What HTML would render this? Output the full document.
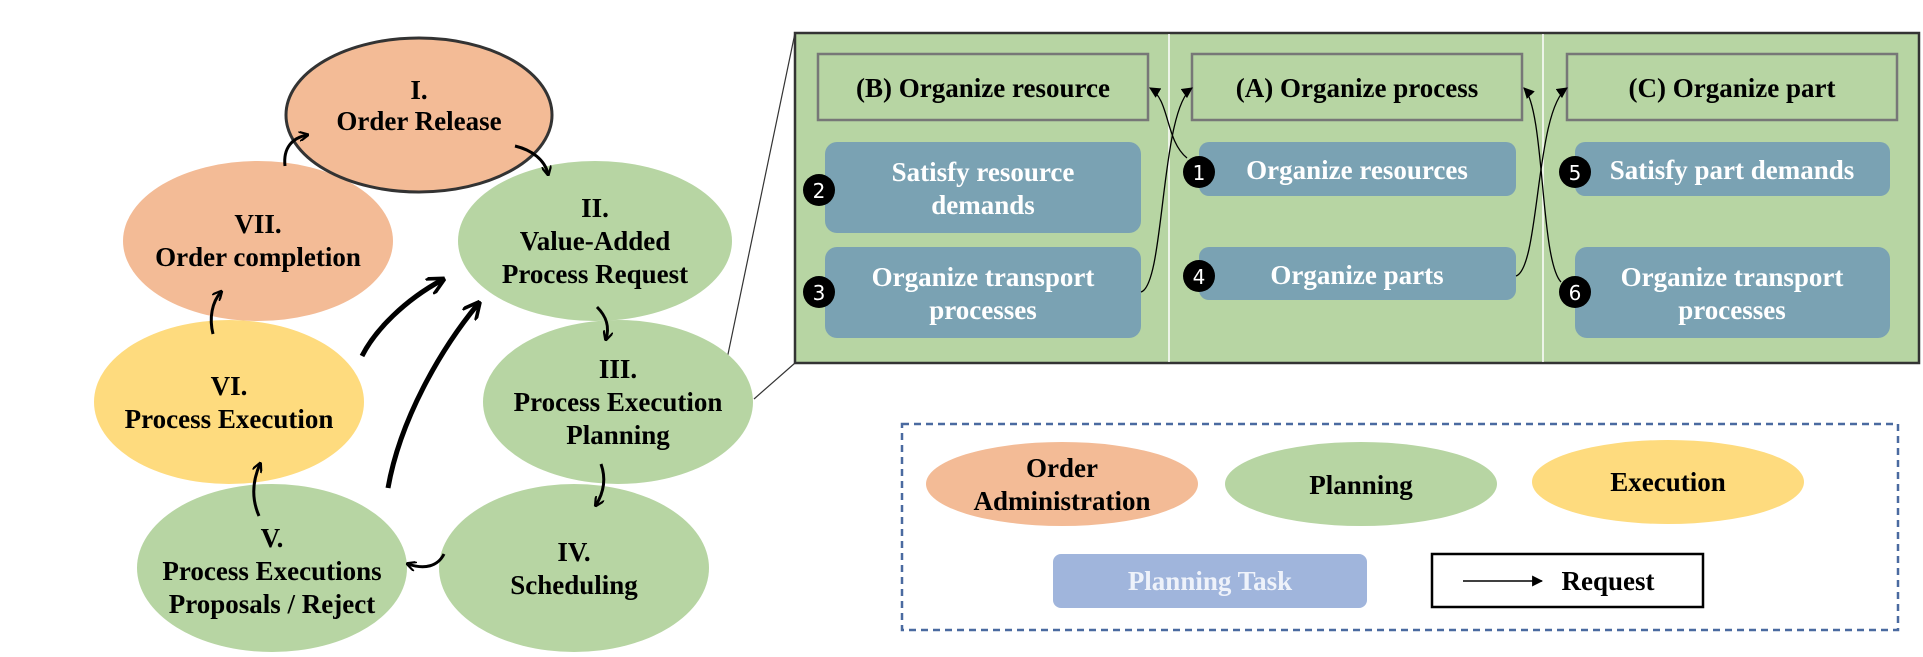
<!DOCTYPE html>
<html><head><meta charset="utf-8"><style>
html,body{margin:0;padding:0;background:#fff;}
svg{display:block;}
text{font-family:"Liberation Serif",serif;font-weight:bold;}
</style></head><body>
<svg width="1923" height="657" viewBox="0 0 1923 657" xmlns="http://www.w3.org/2000/svg">
<defs>
<marker id="ah" viewBox="0 0 10 10" refX="8" refY="5" markerWidth="10" markerHeight="10" orient="auto" markerUnits="userSpaceOnUse">
<path d="M0,0 L10,5 L0,10" fill="none" stroke="#000" stroke-width="2.2"/></marker>
<marker id="ah2" viewBox="0 0 10 10" refX="8" refY="5" markerWidth="18" markerHeight="18" orient="auto" markerUnits="userSpaceOnUse">
<path d="M0,0 L10,5 L0,10" fill="none" stroke="#000" stroke-width="2"/></marker>
<marker id="tri" viewBox="0 0 10 10" refX="9" refY="5" markerWidth="11" markerHeight="11" orient="auto" markerUnits="userSpaceOnUse">
<path d="M0,0 L10,5 L0,10 z" fill="#000"/></marker>
</defs>

<line x1="727" y1="359" x2="795" y2="33" stroke="#333" stroke-width="1.2"/>
<line x1="754" y1="399" x2="795" y2="363" stroke="#333" stroke-width="1.2"/>

<g font-size="27" text-anchor="middle">
<ellipse cx="258" cy="241" rx="135" ry="80" fill="#f3bb96"/>
<text x="258" y="233">VII.</text><text x="258" y="266">Order completion</text>

<ellipse cx="595" cy="241" rx="137" ry="80" fill="#b7d5a3"/>
<text x="595" y="217">II.</text><text x="595" y="250">Value-Added</text><text x="595" y="283">Process Request</text>

<ellipse cx="419" cy="115" rx="133" ry="77" fill="#f3bb96" stroke="#333" stroke-width="3"/>
<text x="419" y="99">I.</text><text x="419" y="130">Order Release</text>

<ellipse cx="229" cy="402" rx="135" ry="82" fill="#fedb7e"/>
<text x="229" y="395">VI.</text><text x="229" y="428">Process Execution</text>

<ellipse cx="618" cy="402" rx="135" ry="82" fill="#b7d5a3"/>
<text x="618" y="378">III.</text><text x="618" y="411">Process Execution</text><text x="618" y="444">Planning</text>

<ellipse cx="272" cy="568" rx="135" ry="84" fill="#b7d5a3"/>
<text x="272" y="547">V.</text><text x="272" y="580">Process Executions</text><text x="272" y="613">Proposals / Reject</text>

<ellipse cx="574" cy="568" rx="135" ry="84" fill="#b7d5a3"/>
<text x="574" y="561">IV.</text><text x="574" y="594">Scheduling</text>
</g>

<g fill="none" stroke="#000" stroke-width="3" marker-end="url(#ah)">
<path d="M285,166 C283,148 292,138 307,135"/>
<path d="M515,146 C532,150 545,160 548,174"/>
<path d="M597,307 C606,316 610,326 606,339"/>
<path d="M601,464 C606,478 604,492 596,505"/>
<path d="M444,554 C438,566 425,570 408,564"/>
<path d="M259,516 C252,500 252,482 260,464"/>
<path d="M213,334 C209,318 212,302 221,292"/>
</g>
<g fill="none" stroke="#000" stroke-width="5" marker-end="url(#ah2)">
<path d="M362,356 C375,330 405,300 442,280"/>
<path d="M388,488 C400,420 440,350 478,304"/>
</g>

<rect x="795" y="33" width="1124" height="330" fill="#b7d5a3" stroke="#333" stroke-width="2.5"/>
<line x1="1169" y1="34" x2="1169" y2="362" stroke="#fff" stroke-width="1.5"/>
<line x1="1543" y1="34" x2="1543" y2="362" stroke="#fff" stroke-width="1.5"/>

<g fill="none" stroke="#777" stroke-width="2.5">
<rect x="818" y="54" width="330" height="66"/>
<rect x="1192" y="54" width="330" height="66"/>
<rect x="1567" y="54" width="330" height="66"/>
</g>
<g font-size="27" text-anchor="middle">
<text x="983" y="97">(B) Organize resource</text>
<text x="1357" y="97">(A) Organize process</text>
<text x="1732" y="97">(C) Organize part</text>
</g>

<g fill="#7aa2b3">
<rect x="825" y="142" width="316" height="91" rx="12"/>
<rect x="825" y="247" width="316" height="91" rx="12"/>
<rect x="1199" y="142" width="317" height="54" rx="10"/>
<rect x="1199" y="247" width="317" height="53" rx="10"/>
<rect x="1575" y="142" width="315" height="54" rx="10"/>
<rect x="1575" y="247" width="315" height="91" rx="12"/>
</g>
<g font-size="27" text-anchor="middle" fill="#fff">
<text x="983" y="181">Satisfy resource</text><text x="983" y="214">demands</text>
<text x="983" y="286">Organize transport</text><text x="983" y="319">processes</text>
<text x="1357" y="179">Organize resources</text>
<text x="1357" y="284">Organize parts</text>
<text x="1732" y="179">Satisfy part demands</text>
<text x="1732" y="286">Organize transport</text><text x="1732" y="319">processes</text>
</g>
<g fill="#000">
<circle cx="819" cy="190" r="16"/><circle cx="819" cy="292" r="16"/>
<circle cx="1199" cy="172" r="16"/><circle cx="1199" cy="276" r="16"/>
<circle cx="1575" cy="172" r="16"/><circle cx="1575" cy="292" r="16"/>
</g>
<g font-size="20" text-anchor="middle" fill="#fff">
<text x="819" y="198" style="font-family:'DejaVu Sans',sans-serif;font-weight:normal">2</text>
<text x="819" y="300" style="font-family:'DejaVu Sans',sans-serif;font-weight:normal">3</text>
<text x="1199" y="180" style="font-family:'DejaVu Sans',sans-serif;font-weight:normal">1</text>
<text x="1199" y="284" style="font-family:'DejaVu Sans',sans-serif;font-weight:normal">4</text>
<text x="1575" y="180" style="font-family:'DejaVu Sans',sans-serif;font-weight:normal">5</text>
<text x="1575" y="300" style="font-family:'DejaVu Sans',sans-serif;font-weight:normal">6</text>
</g>
<g fill="none" stroke="#000" stroke-width="1.3" marker-end="url(#tri)">
<path d="M1141,292 C1165,285 1160,110 1192,88"/>
<path d="M1187,158 C1165,140 1170,100 1150,88"/>
<path d="M1516,276 C1540,268 1535,110 1567,88"/>
<path d="M1561,282 C1540,260 1545,110 1524,88"/>
</g>

<rect x="902" y="424" width="996" height="206" fill="none" stroke="#4a6aa0" stroke-width="2.5" stroke-dasharray="7,5"/>
<ellipse cx="1062" cy="484" rx="136" ry="42" fill="#f3bb96"/>
<ellipse cx="1361" cy="484" rx="136" ry="42" fill="#b7d5a3"/>
<ellipse cx="1668" cy="482" rx="136" ry="42" fill="#fedb7e"/>
<g font-size="27" text-anchor="middle">
<text x="1062" y="477">Order</text><text x="1062" y="510">Administration</text>
<text x="1361" y="494">Planning</text>
<text x="1668" y="491">Execution</text>
</g>
<rect x="1053" y="554" width="314" height="54" rx="8" fill="#a0b5dc"/>
<text x="1210" y="590" font-size="27" text-anchor="middle" fill="#eef2fa">Planning Task</text>
<rect x="1432" y="554" width="271" height="53" fill="#fff" stroke="#000" stroke-width="2.5"/>
<line x1="1463" y1="581" x2="1542" y2="581" stroke="#000" stroke-width="1.5" marker-end="url(#tri)"/>
<text x="1608" y="590" font-size="27" text-anchor="middle">Request</text>
</svg>
</body></html>
